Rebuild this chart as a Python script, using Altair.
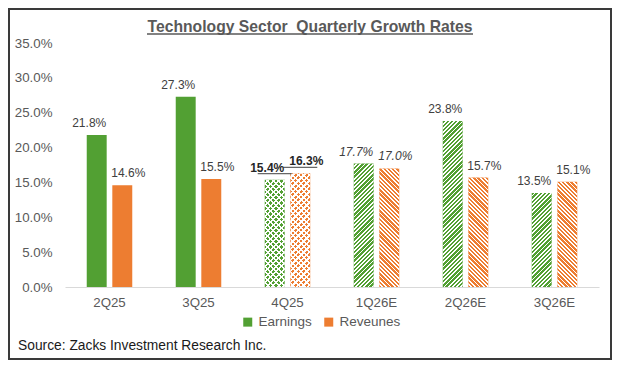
import altair as alt

# ---------------- data ----------------
quarters = ["2Q25", "3Q25", "4Q25", "1Q26E", "2Q26E", "3Q26E"]
series_names = ["Earnings", "Reveunes"]
earnings = [21.8, 27.3, 15.4, 17.7, 23.8, 13.5]
revenues = [14.6, 15.5, 16.3, 17.0, 15.7, 15.1]
patterns = ["solid", "solid", "dots", "stripes", "stripes", "stripes"]
label_styles = ["normal", "normal", "bold", "italic", "normal", "normal"]
y_ticks = [0, 5, 10, 15, 20, 25, 30, 35]

title_text = "Technology Sector\u00a0 Quarterly Growth Rates"
source_text = "Source: Zacks Investment Research Inc."

# ---------------- style ----------------
COLORS = ["#52A033", "#ED7D31"]
FONT = "Liberation Sans"
PLOT_W, PLOT_H = 534, 244
Y_MAX = 35
OFF_PI, OFF_PO = 0.22, 0.85

band = PLOT_W / len(quarters)
sub_step = band / (2 - OFF_PI + 2 * OFF_PO)
bar_w = sub_step * (1 - OFF_PI)
px_per_unit = PLOT_H / Y_MAX

CLEAR = "rgba(255,255,255,0)"
WHITE = "#ffffff"


def stripe_stops(period, white_frac):
    stops = []
    k = 0
    while k * period < 1:
        a = k * period
        b = min(a + period * (1 - white_frac), 1)
        c = min(a + period, 1)
        stops += [{"offset": a, "color": CLEAR}, {"offset": b, "color": CLEAR}]
        if b < 1:
            stops += [{"offset": b, "color": WHITE}, {"offset": c, "color": WHITE}]
        k += 1
    return stops


def diag_gradient(w, h, up, period, white_frac):
    k = (w + h) / (w * w + h * h)
    if up:
        g = {"gradient": "linear", "x1": 0, "y1": 0, "x2": k * w, "y2": k * h}
    else:
        g = {"gradient": "linear", "x1": 0, "y1": 1, "x2": k * w, "y2": 1 - k * h}
    g["stops"] = stripe_stops(period / (w + h), white_frac)
    return g


rows = []
for i, q in enumerate(quarters):
    for s_idx, (s, vals) in enumerate(zip(series_names, [earnings, revenues])):
        v = vals[i]
        h = v * px_per_unit
        row = {
            "quarter": q,
            "series": s,
            "value": v,
            "pattern": patterns[i],
            "style": label_styles[i],
            "label": f"{v:.1f}%",
        }
        if patterns[i] == "stripes":
            row["grad1"] = diag_gradient(bar_w, h, s_idx == 0, 4.2, 0.42)
        elif patterns[i] == "dots":
            row["grad1"] = diag_gradient(bar_w, h, True, 5.5, 0.4)
            row["grad2"] = diag_gradient(bar_w, h, False, 5.5, 0.4)
        rows.append(row)

data = alt.Data(values=rows)
one = alt.Data(values=[{"t": 1}])

x_enc = alt.X(
    "quarter:N",
    sort=quarters,
    scale=alt.Scale(paddingInner=0, paddingOuter=0),
    axis=alt.Axis(
        title=None, labelAngle=0, ticks=False, domainColor="#D9D9D9", domainWidth=1,
        labelFont=FONT, labelFontSize=13.3, labelColor="#595959", labelPadding=8,
    ),
)
xo_enc = alt.XOffset(
    "series:N", sort=series_names,
    scale=alt.Scale(paddingInner=OFF_PI, paddingOuter=OFF_PO),
)
y_enc = alt.Y(
    "value:Q",
    scale=alt.Scale(domain=[0, Y_MAX], nice=False),
    axis=alt.Axis(
        title=None, values=y_ticks, grid=False, ticks=False, domain=False,
        labelOverlap=False, labelFlush=False, labelBound=False,
        labelExpr="format(datum.value, '.1f') + '%'",
        labelFont=FONT, labelFontSize=13.3, labelColor="#595959", labelPadding=13,
    ),
)

base = alt.Chart(data)

bars = base.mark_bar().encode(
    x=x_enc, xOffset=xo_enc, y=y_enc,
    color=alt.Color(
        "series:N",
        scale=alt.Scale(domain=series_names, range=COLORS),
        legend=alt.Legend(
            title=None, orient="none", legendX=176, legendY=272, direction="horizontal",
            symbolType="square", symbolSize=81, symbolStrokeWidth=0,
            labelFont=FONT, labelFontSize=13.5, labelColor="#595959",
            columnPadding=10, labelOffset=4,
        ),
    ),
)

over1 = base.mark_bar().encode(
    x=x_enc, xOffset=xo_enc, y=y_enc,
    fill=alt.Fill("grad1:N", scale=None, legend=None),
).transform_filter("datum.pattern != 'solid'")

over2 = base.mark_bar().encode(
    x=x_enc, xOffset=xo_enc, y=y_enc,
    fill=alt.Fill("grad2:N", scale=None, legend=None),
).transform_filter("datum.pattern == 'dots'")

DX = {"Earnings": -7.5, "Reveunes": 6}


def label_layer(series, style):
    kw = dict(
        font=FONT, fontSize=12, color="#404040", baseline="alphabetic", align="center",
        dy=-8, dx=DX[series],
    )
    if style == "bold":
        kw["fontWeight"] = "bold"
        kw["color"] = "#262626"
    if style == "italic":
        kw["fontStyle"] = "italic"
    return base.mark_text(**kw).encode(
        x=x_enc, xOffset=xo_enc, y=y_enc, text="label:N",
    ).transform_filter(f"datum.series == '{series}' && datum.style == '{style}'")


label_layers = [label_layer(s, st) for s in series_names for st in ["normal", "bold", "italic"]]


def underline_layer(series):
    return base.mark_tick(
        orient="horizontal", size=34, thickness=1.3, color="#262626",
        xOffset=DX[series], yOffset=-6,
    ).encode(
        x=x_enc, xOffset=xo_enc, y=y_enc,
    ).transform_filter(f"datum.series == '{series}' && datum.style == 'bold'")


underlines = [underline_layer(s) for s in series_names]

title = alt.Chart(one).mark_text(
    font=FONT, fontSize=15.7, fontWeight="bold", color="#595959", align="center", baseline="alphabetic",
    text=title_text,
).encode(x=alt.value(245), y=alt.value(-11.5))

title_rule = alt.Chart(one).mark_rule(color="#595959", strokeWidth=1.4).encode(
    x=alt.value(82), x2=alt.value(408), y=alt.value(-9)
)

source = alt.Chart(one).mark_text(
    font=FONT, fontSize=13.8, color="#1a1a1a", align="left", baseline="alphabetic", text=source_text,
).encode(x=alt.value(-47), y=alt.value(307))

border = alt.Chart(one).mark_rect(fillOpacity=0, stroke="#3a3a3a", strokeWidth=2).encode(
    x=alt.value(-56), x2=alt.value(546), y=alt.value(-34), y2=alt.value(316)
)

chart = alt.layer(
    bars, over1, over2, *underlines, *label_layers, title, title_rule, source, border
).properties(
    width=PLOT_W, height=PLOT_H,
    autosize=alt.AutoSizeParams(type="none"),
    padding={"left": 57, "top": 35, "right": 13, "bottom": 73},
    background="white",
).configure_view(stroke=None)

chart.save("out.html", embed_options={"renderer": "svg", "actions": False})
